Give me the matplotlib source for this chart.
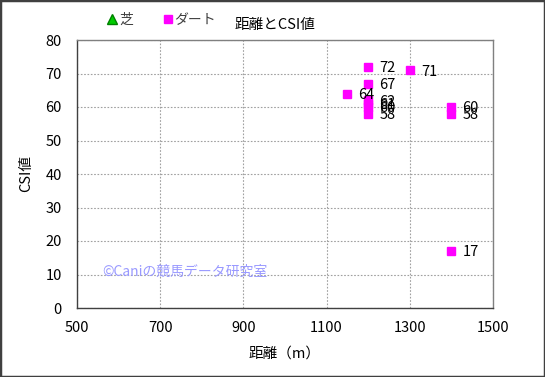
import matplotlib
matplotlib.use("Agg")
import matplotlib.pyplot as plt
from matplotlib.patches import Rectangle

plt.rcParams['font.family'] = ['Noto Sans CJK JP', 'DejaVu Sans']

# Data
turf_x = []
turf_y = []
dirt_x = [1200, 1300, 1150, 1200, 1200, 1200, 1200, 1200, 1400, 1400, 1400]
dirt_y = [72, 71, 64, 67, 62, 61, 60, 58, 60, 58, 17]
x_ticks = [500, 700, 900, 1100, 1300, 1500]
y_ticks = [0, 10, 20, 30, 40, 50, 60, 70, 80]
title = "距離とCSI値"
xlabel = "距離（m）"
ylabel = "CSI値"
legend_labels = ["芝", "ダート"]
watermark = "©Caniの競馬データ研究室"

W, H = 545, 377
L, R, T, B = 77, 493, 40, 308
fig = plt.figure(figsize=(W/100, H/100), dpi=100)
ax = fig.add_axes([L/W, 1-B/H, (R-L)/W, (B-T)/H])

turf_h, = ax.plot(turf_x, turf_y, linestyle='none', marker='^', color='#00cc00',
                  markeredgecolor='#008000', markersize=7)
dirt_h, = ax.plot(dirt_x, dirt_y, linestyle='none', marker='s', color='#ff00ff',
                  markeredgecolor='#ff00ff', markersize=6.3)

for x, y in zip(dirt_x, dirt_y):
    ax.annotate(str(y), (x, y), xytext=(8, -1), textcoords='offset points',
                va='center', ha='left', fontsize=10.5, color='black')

ax.set_xlim(500, 1500)
ax.set_ylim(0, 80)
ax.set_xticks(x_ticks)
ax.set_yticks(y_ticks)
ax.tick_params(axis='both', length=0, labelsize=10.5)
ax.tick_params(axis='x', pad=9)
ax.tick_params(axis='y', pad=11)
ax.grid(True, color='#a0a0a0', linestyle=(0, (1.5, 1.5)), linewidth=0.8)
ax.set_axisbelow(True)
for s in ['top', 'right']:
    ax.spines[s].set_color('#808080')
for s in ['left', 'bottom']:
    ax.spines[s].set_color('#404040')
for s in ax.spines.values():
    s.set_linewidth(1.0)

ax.set_xlabel(xlabel, fontsize=10.5, labelpad=9)
ax.set_ylabel(ylabel, fontsize=10.5, labelpad=9)

fig.text(275/W, 1-25/H, title, ha='center', va='center', fontsize=10.5)

fig.legend(handles=[turf_h, dirt_h], labels=legend_labels, loc='center left',
           bbox_to_anchor=(101/W, 1-20/H), ncol=2, frameon=False,
           handlelength=0.6, handletextpad=0.2, columnspacing=2.2,
           fontsize=10, borderpad=0, labelcolor='#404040')

fig.text(102/W, 1-272/H, watermark, ha='left', va='center', fontsize=10,
         color='#9999ff')

fig.patches.append(Rectangle((0, 0), 1, 1, transform=fig.transFigure,
                             fill=False, edgecolor='#404040', linewidth=2.5))

fig.savefig("out.png", dpi=100)
